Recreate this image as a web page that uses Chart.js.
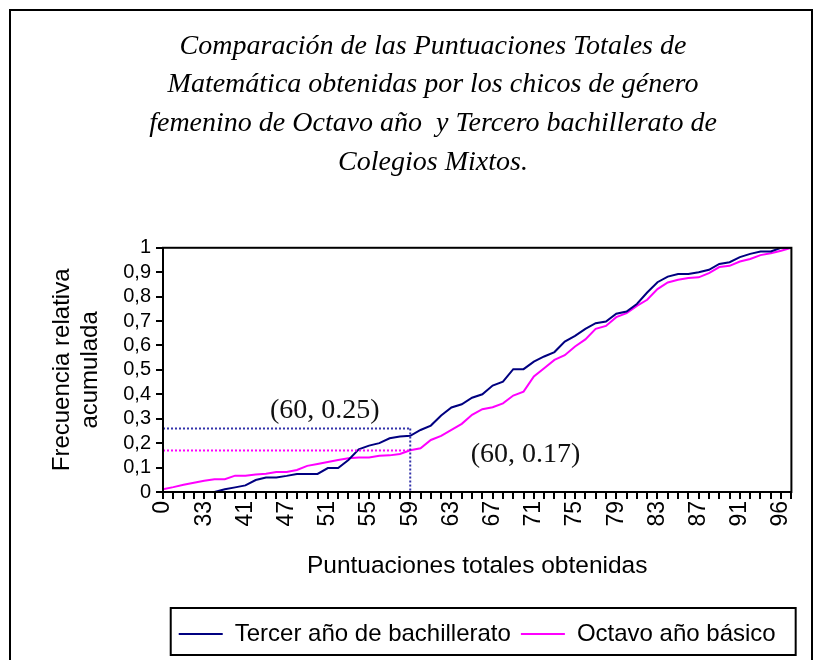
<!DOCTYPE html>
<html>
<head>
<meta charset="utf-8">
<script src="https://cdn.jsdelivr.net/npm/chart.js@4/dist/chart.umd.min.js"></script>
<style>
  html, body { margin: 0; padding: 0; background: #fff; }
  #wrap { position: relative; width: 821px; height: 660px; }
</style>
</head>
<body>
<div id="wrap"><canvas id="chart" width="821" height="660"></canvas></div>
<script>
// puntuaciones (categorias del eje x)
const scores = [
  0, 25, 29, 31, 33, 35, 37, 39, 41, 42, 44, 45, 47, 48, 49, 50,
  51, 52, 53, 54, 55, 56, 57, 58, 59, 60, 61, 62, 63, 64, 65, 66,
  67, 68, 69, 70, 71, 72, 73, 74, 75, 76, 77, 78, 79, 80, 81, 82,
  83, 84, 85, 86, 87, 88, 89, 90, 91, 92, 93, 94, 96, 98
];

// frecuencia relativa acumulada
const tercero = [
  0, 0, 0, 0, 0, 0, 0.011, 0.019, 0.027, 0.049, 0.059, 0.059, 0.066, 0.074, 0.074, 0.074,
  0.098, 0.098, 0.131, 0.175, 0.19, 0.2, 0.22, 0.227, 0.23, 0.254, 0.272, 0.313, 0.346, 0.359, 0.386, 0.40,
  0.436, 0.452, 0.503, 0.503, 0.534, 0.555, 0.573, 0.616, 0.639, 0.668, 0.691, 0.698, 0.73, 0.739, 0.77, 0.817,
  0.859, 0.882, 0.893, 0.893, 0.90, 0.91, 0.934, 0.941, 0.962, 0.975, 0.985, 0.985, 1.0, 1.0
];
const octavo = [
  0.011, 0.02, 0.03, 0.038, 0.046, 0.052, 0.052, 0.067, 0.067, 0.072, 0.075, 0.082, 0.082, 0.09, 0.107, 0.115,
  0.123, 0.131, 0.138, 0.141, 0.141, 0.148, 0.15, 0.156, 0.171, 0.179, 0.213, 0.23, 0.254, 0.279, 0.316, 0.339,
  0.347, 0.363, 0.395, 0.411, 0.473, 0.507, 0.541, 0.56, 0.596, 0.625, 0.668, 0.68, 0.716, 0.732, 0.762, 0.787,
  0.831, 0.858, 0.869, 0.876, 0.879, 0.896, 0.921, 0.926, 0.944, 0.954, 0.97, 0.978, 0.988, 1.0
];

// lineas de referencia en la puntuacion 59
const refIndex = 24;
const refValues = [0.26, 0.17];
const refTexts = ['(60, 0.25)', '(60, 0.17)'];

const seriesNames = ['Tercer año de bachillerato', 'Octavo año básico'];
const seriesColors = ['#000080', '#ff00ff'];

const sans = 'Liberation Sans, Arial, sans-serif';
const serif = 'Liberation Serif, Times New Roman, serif';

const frame = {
  id: 'frame',
  beforeDraw(chart){
    const ctx = chart.ctx;
    ctx.save();
    ctx.fillStyle = '#fff';
    ctx.fillRect(0, 0, chart.width, chart.height);
    ctx.strokeStyle = '#000';
    ctx.lineWidth = 2;
    ctx.strokeRect(10, 10, 802, 700);
    ctx.restore();
  },
  afterDraw(chart){
    const ctx = chart.ctx;
    const a = chart.chartArea;
    ctx.save();
    ctx.strokeStyle = '#000';
    ctx.lineWidth = 2;
    ctx.strokeRect(a.left, a.top, a.right - a.left, a.bottom - a.top);
    // caja de la leyenda
    const lg = chart.legend;
    const boxes = lg.legendHitBoxes;
    if(boxes && boxes.length){
      const l = Math.min(...boxes.map(b => b.left)) - 8;
      const r = Math.max(...boxes.map(b => b.left + b.width)) + 20;
      ctx.strokeRect(l, lg.top - 4, r - l, lg.bottom - lg.top + 3);
    }
    ctx.restore();
  }
};

const refLines = {
  id: 'refLines',
  afterDatasetsDraw(chart){
    const ctx = chart.ctx;
    const x = chart.scales.x, y = chart.scales.y;
    const px = x.getPixelForValue(refIndex);
    ctx.save();
    ctx.lineWidth = 2;
    ctx.setLineDash([2, 2]);
    refValues.forEach((v, i) => {
      const py = y.getPixelForValue(v);
      ctx.strokeStyle = i === 0 ? '#3333aa' : '#ff00ff';
      ctx.beginPath();
      ctx.moveTo(x.left, py);
      ctx.lineTo(px, py);
      ctx.stroke();
    });
    ctx.strokeStyle = '#3333aa';
    ctx.beginPath();
    ctx.moveTo(px, y.getPixelForValue(refValues[0]));
    ctx.lineTo(px, y.bottom);
    ctx.stroke();
    ctx.setLineDash([]);
    ctx.fillStyle = '#111';
    ctx.font = '28px ' + serif;
    ctx.textAlign = 'center';
    ctx.textBaseline = 'middle';
    const spots = [[15.7, 0.333], [35.2, 0.152]];
    refTexts.forEach((t, i) => {
      ctx.fillText(t, x.getPixelForValue(spots[i][0]), y.getPixelForValue(spots[i][1]));
    });
    ctx.restore();
  }
};

new Chart(document.getElementById('chart'), {
  type: 'line',
  data: {
    labels: scores.map(String),
    datasets: [
      { label: seriesNames[0], data: tercero, borderColor: seriesColors[0], backgroundColor: seriesColors[0], borderWidth: 2, pointRadius: 0, tension: 0 },
      { label: seriesNames[1], data: octavo, borderColor: seriesColors[1], backgroundColor: seriesColors[1], borderWidth: 2, pointRadius: 0, tension: 0 }
    ]
  },
  options: {
    responsive: false,
    animation: false,
    layout: { padding: { top: 10, left: 73, right: 28, bottom: 4 } },
    plugins: {
      title: {
        display: true,
        text: [
          'Comparación de las Puntuaciones Totales de',
          'Matemática obtenidas por los chicos de género',
          'femenino de Octavo año  y Tercero bachillerato de',
          'Colegios Mixtos.'
        ],
        color: '#000',
        font: { family: serif, size: 28, style: 'italic', weight: 'normal', lineHeight: 1.382 },
        padding: { top: 17, bottom: 66 }
      },
      legend: {
        position: 'bottom',
        fullSize: false,
        labels: {
          color: '#000',
          font: { family: sans, size: 24 },
          usePointStyle: true,
          pointStyle: 'line',
          pointStyleWidth: 44,
          padding: 10
        }
      },
      tooltip: { enabled: false }
    },
    scales: {
      x: {
        afterFit(scale){ scale.height = 120; },
        border: { color: '#000', width: 2 },
        grid: { drawOnChartArea: false, drawTicks: true, tickLength: 7, color: '#000', lineWidth: 2 },
        ticks: {
          autoSkip: false,
          maxRotation: 90,
          minRotation: 90,
          color: '#000',
          font: { family: sans, size: 23 },
          padding: 2,
          callback: (v, i) => i % 4 === 0 ? scores[i] : ''
        },
        title: {
          display: true,
          text: 'Puntuaciones totales obtenidas',
          color: '#000',
          font: { family: sans, size: 24.5, lineHeight: 1.2 },
          padding: { top: 0, bottom: 31 }
        }
      },
      y: {
        min: 0,
        max: 1,
        afterFit(scale){ scale.width = 90; },
        border: { color: '#000', width: 2 },
        grid: { drawOnChartArea: false, drawTicks: true, tickLength: 7, color: '#000', lineWidth: 2 },
        ticks: {
          stepSize: 0.1,
          autoSkip: false,
          color: '#000',
          font: { family: sans, size: 20 },
          padding: 5,
          callback: v => (v === 0 || v === 1) ? String(v) : v.toFixed(1).replace('.', ',')
        },
        title: {
          display: true,
          text: ['Frecuencia relativa', 'acumulada'],
          color: '#000',
          font: { family: sans, size: 24, lineHeight: 1.17 },
          padding: { top: -25, bottom: 0 }
        }
      }
    }
  },
  plugins: [frame, refLines]
});
</script>
</body>
</html>
